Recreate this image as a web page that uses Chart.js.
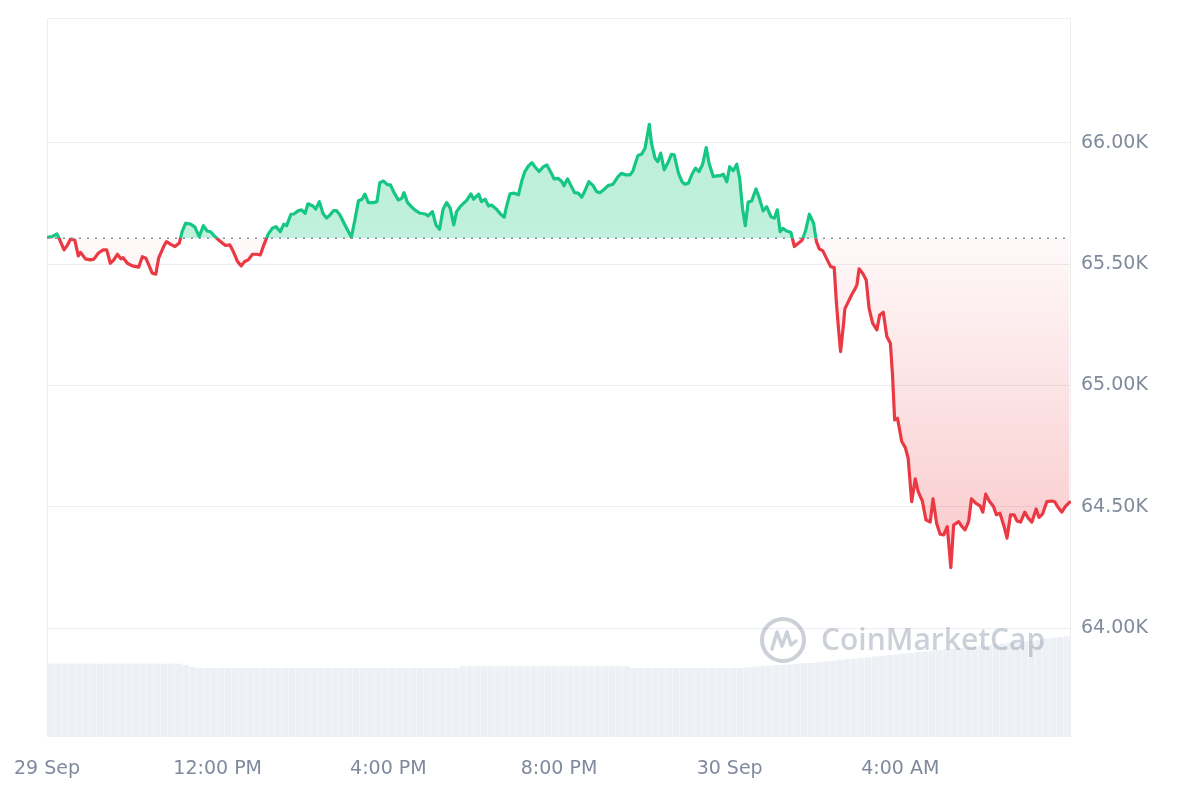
<!DOCTYPE html>
<html><head><meta charset="utf-8">
<script src="https://cdn.jsdelivr.net/npm/chart.js@4.4.0/dist/chart.umd.min.js"></script>
<style>html,body{margin:0;padding:0;background:#fff;}canvas{display:block;}</style>
</head><body>
<canvas id="c" width="1200" height="800"></canvas>
<script>
// ---- data ----
const baselinePrice = 65607;
// minutes since 29 Sep 8:00 AM
const priceTimes = [0,7,14,17,24,29,33,39,44,47,54,61,66,72,79,84,89,94,99,104,107,113,120,129,134,139,145,148,153,157,164,168,174,180,186,190,195,202,208,214,220,225,230,236,243,251,257,262,268,273,278,283,289,295,300,305,311,317,322,328,333,337,343,347,353,358,363,367,374,378,383,388,393,398,403,407,412,419,424,428,433,438,443,447,452,459,464,468,473,479,483,488,494,499,502,507,513,519,525,532,536,542,547,552,557,562,567,572,576,581,585,590,596,600,607,611,616,621,625,632,638,643,646,651,657,663,668,672,677,682,686,692,698,703,710,713,719,724,727,732,737,742,747,752,757,762,768,773,778,784,789,796,803,808,814,820,824,831,836,841,847,850,855,859,863,868,874,878,882,888,893,897,902,907,912,917,922,927,931,937,942,946,951,956,960,965,970,974,978,982,986,991,997,1001,1007,1012,1018,1023,1027,1031,1035,1040,1046,1051,1057,1062,1067,1072,1078,1082,1086,1091,1096,1102,1107,1110,1113,1116,1120,1122,1127,1132,1136,1139,1142,1147,1152,1156,1161,1167,1171,1176,1181,1186,1189,1192,1196,1202,1207,1211,1216,1221,1225,1231,1236,1242,1246,1251,1256,1261,1266,1271,1275,1282,1286,1291,1296,1300,1306,1312,1316,1320,1325,1331,1335,1340,1346,1350,1355,1360,1364,1369,1375,1380,1385,1391,1395,1400,1406,1413,1417,1422,1427,1432,1438];
const priceValues = [65611,65614,65625,65607,65559,65580,65603,65600,65534,65549,65522,65518,65521,65545,65559,65559,65504,65518,65541,65522,65527,65504,65493,65488,65531,65525,65484,65463,65459,65525,65573,65593,65582,65573,65587,65634,65669,65665,65653,65614,65659,65637,65634,65614,65596,65577,65580,65552,65511,65493,65511,65518,65541,65541,65538,65580,65624,65648,65655,65634,65665,65659,65706,65707,65720,65724,65710,65749,65740,65727,65758,65710,65690,65703,65721,65721,65703,65662,65634,65611,65683,65762,65768,65789,65754,65754,65758,65836,65843,65827,65827,65795,65765,65772,65795,65754,65735,65720,65710,65707,65699,65717,65662,65644,65727,65754,65731,65662,65717,65737,65749,65762,65790,65768,65789,65758,65768,65740,65744,65727,65706,65694,65735,65790,65793,65786,65847,65882,65905,65919,65902,65882,65902,65909,65871,65852,65854,65840,65823,65852,65823,65795,65793,65776,65806,65840,65824,65799,65795,65810,65824,65830,65861,65875,65868,65868,65885,65948,65953,65978,66077,65999,65937,65923,65958,65889,65923,65953,65951,65875,65840,65830,65834,65871,65896,65882,65912,65981,65916,65861,65865,65864,65871,65840,65902,65885,65912,65854,65731,65659,65756,65761,65810,65779,65720,65737,65696,65690,65724,65634,65648,65637,65632,65573,65587,65600,65641,65706,65669,65593,65563,65555,65525,65490,65486,65346,65236,65140,65250,65316,65346,65376,65397,65415,65481,65463,65435,65319,65257,65229,65291,65302,65202,65174,65044,64858,64865,64769,64744,64700,64521,64615,64563,64524,64446,64437,64533,64432,64387,64384,64418,64249,64425,64439,64421,64405,64439,64533,64515,64504,64478,64552,64524,64501,64467,64474,64418,64371,64467,64467,64442,64437,64478,64453,64437,64491,64456,64470,64521,64524,64521,64497,64478,64501,64519];
// relative volume bars, one per 10 minutes
const volumeStepMinutes = 10;
const volumeValues = [
10.2,10.2,10.2,10.2,10.2,10.2,10.2,10.2,10.2,10.2,10.2,10.2,10.2,10.2,10.2,10.2,10.2,10.2,10.2,10.0,
9.7,9.6,9.6,9.6,9.6,9.6,9.6,9.6,9.6,9.6,9.6,9.6,9.6,9.6,9.6,9.6,9.6,9.6,9.6,9.6,
9.6,9.6,9.6,9.6,9.6,9.6,9.6,9.6,9.6,9.6,9.6,9.6,9.6,9.6,9.6,9.6,9.6,9.6,9.85,9.85,
9.85,9.85,9.85,9.85,9.85,9.85,9.85,9.85,9.85,9.85,9.85,9.85,9.85,9.85,9.85,9.85,9.85,9.85,9.85,9.85,
9.85,9.85,9.6,9.6,9.6,9.6,9.6,9.6,9.6,9.6,9.6,9.6,9.6,9.6,9.6,9.6,9.6,9.6,9.7,9.8,
9.9,9.9,10.0,10.0,10.1,10.2,10.3,10.3,10.4,10.5,10.6,10.7,10.8,10.9,11.0,11.1,11.2,11.3,11.4,11.5,
11.6,11.7,11.8,11.9,12.0,12.1,12.2,12.3,12.4,12.5,12.6,12.7,12.8,12.9,13.0,13.1,13.2,13.3,13.4,13.5,
13.7,13.8,13.9,14.0];
const volumeAxisMax = 100;
const xTickMinutes = [0,240,480,720,960,1200];
const xTickLabels = ['29 Sep','12:00 PM','4:00 PM','8:00 PM','30 Sep','4:00 AM'];
const yTickValues = [64000,64500,65000,65500,66000];
const yMin = 63551, yMax = 66515;

// ---- styles ----
const GREEN = '#16c784', RED = '#ea3943';
const LABEL = '#808a9d';
const GRID = '#eceef1';

function splitOffset(chart){
  const a = chart.chartArea;
  const yb = chart.scales.y.getPixelForValue(baselinePrice);
  return Math.min(Math.max((yb - a.top)/(a.bottom - a.top), 0), 1);
}
function lineColor(ctx){
  const chart = ctx.chart, a = chart.chartArea;
  if (!a) return GREEN;
  const off = splitOffset(chart);
  const g = chart.ctx.createLinearGradient(0, a.top, 0, a.bottom);
  g.addColorStop(0, GREEN); g.addColorStop(off, GREEN);
  g.addColorStop(off, RED); g.addColorStop(1, RED);
  return g;
}
function fillColor(ctx){
  const chart = ctx.chart, a = chart.chartArea;
  if (!a) return 'rgba(22,199,132,0.28)';
  const off = splitOffset(chart);
  const yLow = chart.scales.y.getPixelForValue(Math.min(...priceValues));
  const off2 = Math.min(Math.max((yLow - a.top)/(a.bottom - a.top), off), 1);
  const g = chart.ctx.createLinearGradient(0, a.top, 0, a.bottom);
  g.addColorStop(0, 'rgba(22,199,132,0.30)');
  g.addColorStop(off, 'rgba(22,199,132,0.27)');
  g.addColorStop(off, 'rgba(234,57,67,0.03)');
  g.addColorStop(off2, 'rgba(234,57,67,0.27)');
  g.addColorStop(1, 'rgba(234,57,67,0.27)');
  return g;
}

const framePlugin = {
  id: 'frame',
  beforeDatasetsDraw(chart){
    const {ctx, chartArea: a} = chart;
    ctx.save();
    ctx.strokeStyle = '#eceef1';
    ctx.lineWidth = 1;
    ctx.beginPath();
    ctx.moveTo(a.left + 0.5, a.bottom);
    ctx.lineTo(a.left + 0.5, a.top + 0.5);
    ctx.lineTo(a.right - 0.5, a.top + 0.5);
    ctx.lineTo(a.right - 0.5, a.bottom);
    ctx.stroke();
    ctx.restore();
  }
};
const watermarkPlugin = {
  id: 'watermark',
  afterDatasetsDraw(chart){
    const ctx = chart.ctx;
    const col = 'rgba(140,150,170,0.45)';
    ctx.save();
    const cx = 783, cy = 640, r = 21;
    ctx.strokeStyle = col; ctx.lineWidth = 4; ctx.lineCap = 'round'; ctx.lineJoin = 'round';
    ctx.beginPath(); ctx.arc(cx, cy, r, 0, Math.PI*2); ctx.stroke();
    ctx.lineWidth = 3.5;
    ctx.beginPath();
    ctx.moveTo(cx - 11, cy + 9);
    ctx.lineTo(cx - 6, cy - 8);
    ctx.lineTo(cx - 1, cy + 6);
    ctx.lineTo(cx + 4, cy - 8);
    ctx.lineTo(cx + 8, cy + 5);
    ctx.lineTo(cx + 13, cy + 1);
    ctx.stroke();
    ctx.fillStyle = col;
    ctx.font = '600 30px "Open Sans"';
    ctx.textBaseline = 'middle';
    ctx.textAlign = 'left';
    ctx.fillText('CoinMarketCap', 821, 641);
    ctx.restore();
  }
};

const priceData = priceTimes.map((t, i) => ({x: t, y: priceValues[i]}));
const baselineData = [{x: 0, y: baselinePrice}, {x: 1440, y: baselinePrice}];
const volumeData = volumeValues.map((v, i) => ({x: i*volumeStepMinutes + volumeStepMinutes/2, y: v}));

const tickFont = {family: 'DejaVu Sans', size: 19};

new Chart(document.getElementById('c'), {
  type: 'line',
  data: {
    datasets: [
      {
        type: 'line', data: priceData, order: 1,
        borderColor: lineColor, backgroundColor: fillColor,
        borderWidth: 3.2, pointRadius: 0, tension: 0,
        borderJoinStyle: 'round', borderCapStyle: 'round',
        fill: {target: {value: baselinePrice}}
      },
      {
        type: 'line', data: baselineData, order: 0,
        borderColor: '#858d9f', borderWidth: 1.6, borderDash: [2, 6],
        pointRadius: 0, fill: false
      },
      {
        type: 'bar', data: volumeData, yAxisID: 'yv', order: 3,
        backgroundColor: '#edf0f4', borderWidth: 0,
        barPercentage: 1.0, categoryPercentage: 0.95
      }
    ]
  },
  options: {
    responsive: false, animation: false, devicePixelRatio: 1,
    layout: {padding: {left: 47, top: 18, right: 0, bottom: 0}},
    plugins: {legend: {display: false}, tooltip: {enabled: false}},
    scales: {
      x: {
        type: 'linear', min: 0, max: 1440, offset: false,
        afterBuildTicks: s => { s.ticks = xTickMinutes.map(v => ({value: v})); },
        afterFit: s => { s.height = 63; s.paddingLeft = 0; s.paddingRight = 0; },
        grid: {display: false, drawTicks: false, offset: false}, border: {display: false},
        ticks: {autoSkip: false, maxRotation: 0, padding: 21, color: LABEL, font: tickFont,
          callback: (v, i) => xTickLabels[i]}
      },
      y: {
        position: 'right', min: yMin, max: yMax,
        afterBuildTicks: s => { s.ticks = yTickValues.map(v => ({value: v})); },
        afterFit: s => { s.width = 129; s.paddingTop = 0; s.paddingBottom = 0; },
        grid: {color: GRID, drawTicks: false, lineWidth: 1}, border: {display: false},
        ticks: {padding: 10, color: LABEL, font: tickFont,
          callback: v => (v/1000).toFixed(2) + 'K'}
      },
      yv: {display: false, min: 0, max: volumeAxisMax}
    }
  },
  plugins: [framePlugin, watermarkPlugin]
});
</script>
</body></html>
